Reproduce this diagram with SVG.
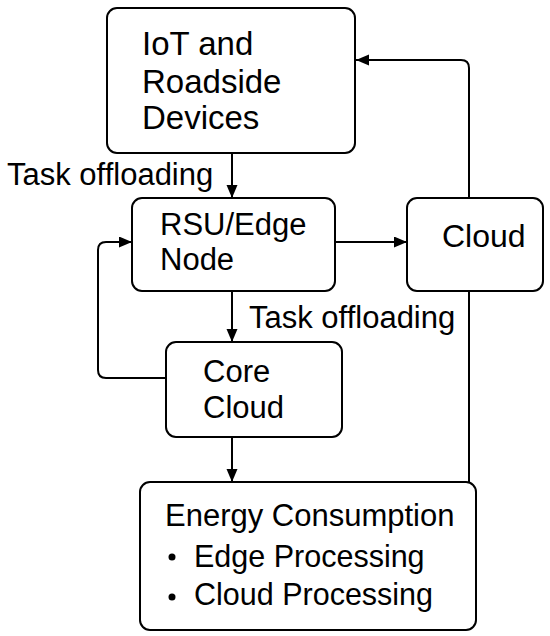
<svg xmlns="http://www.w3.org/2000/svg" width="550" height="636" viewBox="0 0 550 636">
<style>
.box{fill:#fff;stroke:#000;stroke-width:2}
.ln{fill:none;stroke:#000;stroke-width:2}
text{font-family:"Liberation Sans",Arial,sans-serif;font-size:31px;fill:#000}
.lg{font-size:33px}
.cl{font-size:32px}
.sm{font-size:30.5px}
</style>
<defs>
<marker id="ah" markerUnits="userSpaceOnUse" markerWidth="14" markerHeight="12" refX="13" refY="5.5" orient="auto" viewBox="0 0 14 12">
<path d="M0,0 L13,5.5 L0,11 z" fill="#000"/>
</marker>
</defs>
<rect width="550" height="636" fill="#fff"/>
<g id="connectors">
<path class="ln" d="M232,153 V198" marker-end="url(#ah)"/>
<path class="ln" d="M335,242 H407" marker-end="url(#ah)"/>
<path class="ln" d="M469,198 V68 Q469,60 461,60 H356" marker-end="url(#ah)"/>
<path class="ln" d="M469,291 V482"/>
<path class="ln" d="M232,291 V342" marker-end="url(#ah)"/>
<path class="ln" d="M166,378 H106 Q98,378 98,370 V250 Q98,242 106,242 H132" marker-end="url(#ah)"/>
<path class="ln" d="M232,437 V482" marker-end="url(#ah)"/>
<text x="7" y="185">Task offloading</text>
<text x="249" y="328">Task offloading</text>
</g>
<g id="iot">
<rect class="box" x="107" y="8" width="248" height="145" rx="10"/>
<text class="lg" x="142" y="55">IoT and</text>
<text class="lg" x="142" y="93">Roadside</text>
<text class="lg" x="142" y="129">Devices</text>
</g>
<g id="rsu">
<rect class="box" x="132" y="198" width="203" height="93" rx="10"/>
<text x="160" y="235">RSU/Edge</text>
<text x="160" y="270">Node</text>
</g>
<g id="cloud">
<rect class="box" x="407" y="198" width="136" height="93" rx="10"/>
<text class="cl" x="442" y="247">Cloud</text>
</g>
<g id="core">
<rect class="box" x="166" y="342" width="176" height="95" rx="10"/>
<text x="203" y="382">Core</text>
<text x="203" y="418">Cloud</text>
</g>
<g id="energy">
<rect class="box" x="140" y="482" width="336" height="148" rx="10"/>
<text x="165" y="526">Energy Consumption</text>
<circle cx="172" cy="557" r="3.5"/>
<text class="sm" x="194" y="567">Edge Processing</text>
<circle cx="172" cy="597" r="3.5"/>
<text class="sm" x="194" y="605">Cloud Processing</text>
</g>
</svg>
